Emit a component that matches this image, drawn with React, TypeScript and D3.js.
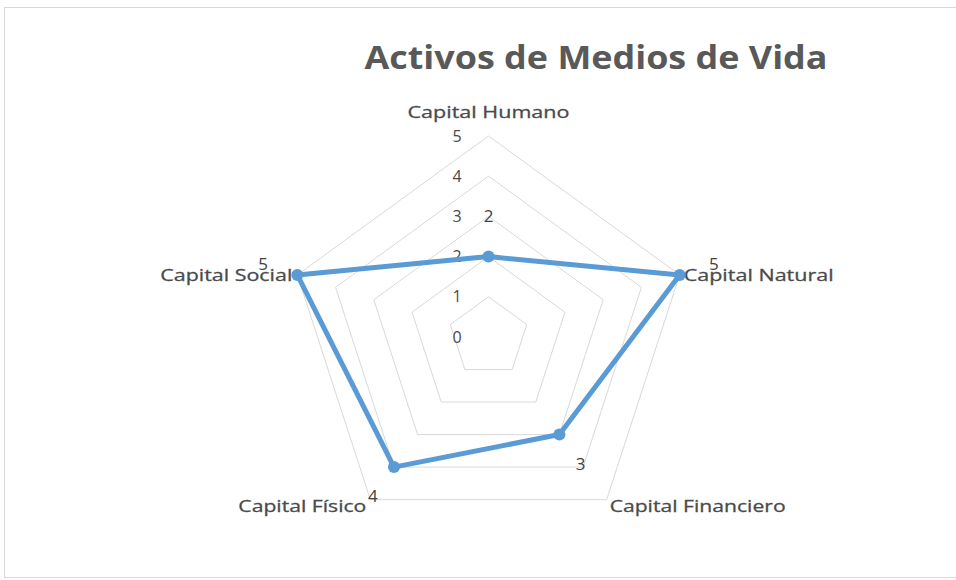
import React from "react";
import * as d3 from "d3";

const categories = ["Capital Humano", "Capital Natural", "Capital Financiero", "Capital Físico", "Capital Social"];
const values = [2, 5, 3, 4, 5];
const ticks = [0, 1, 2, 3, 4, 5];
const title = "Activos de Medios de Vida";

const W = 956;
const H = 580;
const cx = 488.5;
const cy = 337;
const R = 201;
const blue = "#5B9BD5";
const textColor = "#4a4a4a";
const font = "'Open Sans', 'DejaVu Sans', sans-serif";

const r = d3.scaleLinear().domain([0, 5]).range([0, R]);
const angle = (i: number) => (i * 2 * Math.PI) / categories.length;
const pt = (i: number, v: number): [number, number] => [
  cx + r(v) * Math.sin(angle(i)),
  cy - r(v) * Math.cos(angle(i)),
];

// label placement for each axis (anchor and small nudges)
const labelAnchor = ["middle", "start", "start", "end", "end"];
const labelDx = [0, 4, 3, -4, -5];
const labelDy = [-18, 6, 12, 12, 6];
const labelLen = [162, 150, 176, 128, 132];

const App = () => {
  const line = d3.line<[number, number]>().curve(d3.curveLinearClosed);
  const grid = ticks.filter(t => t > 0).map(t => line(categories.map((_, i) => pt(i, t))) || "");
  const series = line(values.map((v, i) => pt(i, v))) || "";

  return (
    <svg width={W} height={H} style={{ position: "absolute", left: 0, top: 0, background: "#fff" }}>
      <rect x={4.5} y={7.5} width={W + 10} height={570} fill="#fff" stroke="#d9d9d9" />
      <text
        x={596}
        y={69}
        textAnchor="middle"
        fontFamily={font}
        fontWeight="bold"
        fontSize={32}
        fill="#595959"
        textLength={463}
        lengthAdjust="spacingAndGlyphs"
      >
        {title}
      </text>

      {grid.map((d, i) => (
        <path key={i} d={d} fill="none" stroke="#d9d9d9" strokeWidth={1} />
      ))}

      {ticks.map(t => (
        <text
          key={t}
          x={457}
          y={cy - r(t)}
          dy="0.35em"
          textAnchor="middle"
          fontFamily={font}
          fontSize={16}
          fill={textColor}
        >
          {t}
        </text>
      ))}

      {categories.map((c, i) => {
        const [x, y] = pt(i, 5);
        return (
          <text
            key={c}
            x={x + labelDx[i]}
            y={y + labelDy[i]}
            textAnchor={labelAnchor[i]}
            fontFamily={font}
            fontSize={17}
            fill={textColor}
            stroke={textColor}
            strokeWidth={0.3}
            textLength={labelLen[i]}
            lengthAdjust="spacingAndGlyphs"
          >
            {c}
          </text>
        );
      })}

      <path d={series} fill="none" stroke={blue} strokeWidth={5} strokeLinejoin="round" />
      {values.map((v, i) => {
        const [x, y] = pt(i, v);
        return <circle key={i} cx={x} cy={y} r={6} fill={blue} />;
      })}

      {values.map((v, i) => {
        const [x, y] = pt(i, v);
        const off = i === 0 ? 41 : 36;
        return (
          <text
            key={i}
            x={x + off * Math.sin(angle(i))}
            y={y - off * Math.cos(angle(i))}
            dy="0.35em"
            textAnchor="middle"
            fontFamily={font}
            fontSize={17}
            fill="#404040"
          >
            {v}
          </text>
        );
      })}
    </svg>
  );
};

export default App;
